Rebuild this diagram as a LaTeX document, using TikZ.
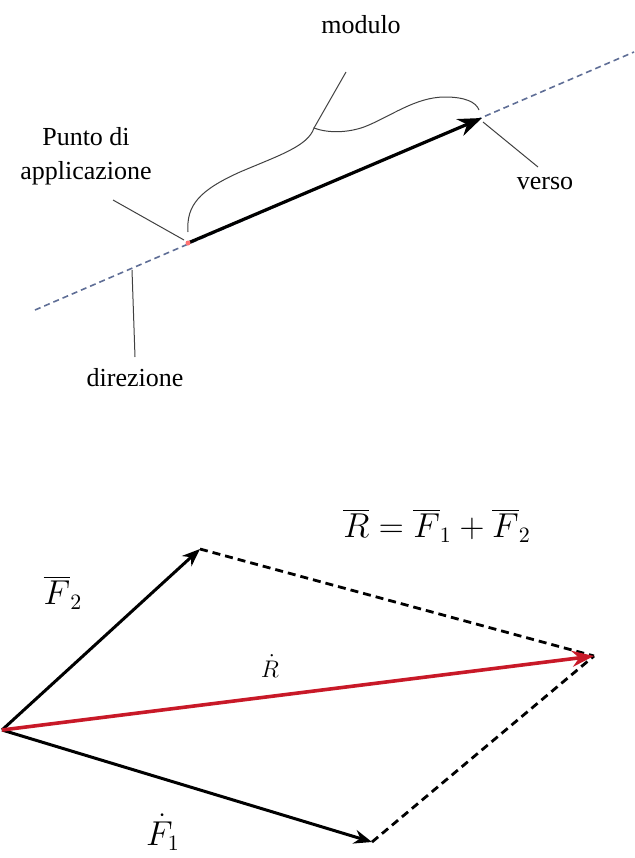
\documentclass[tikz,border=0pt]{standalone}
\usepackage{fontspec}
\setmainfont{Liberation Serif}
\usetikzlibrary{arrows.meta}
\definecolor{dirblue}{RGB}{95,110,150}
\definecolor{resred}{RGB}{200,25,40}
\tikzset{
  lbltext/.style={font=\fontsize{13}{15}\selectfont, inner sep=0pt, align=center},
  symtext/.style={font=\fontsize{16}{18}\selectfont, inner sep=0pt, anchor=base},
  leader/.style={line width=0.5pt, black!75},
  dirline/.style={dirblue, line width=0.8pt, dash pattern=on 3pt off 2pt},
  mainvec/.style={-{Stealth[length=12pt,width=9pt]}, line width=1.6pt},
  forcevec/.style={-{Stealth[length=9pt,width=7pt]}, line width=1.5pt},
  compline/.style={line width=1.4pt, dash pattern=on 4pt off 2.5pt},
}
\begin{document}
\begin{tikzpicture}[x=0.5pt,y=-0.5pt]
\useasboundingbox (0,0) rectangle (634,858);

% the vector and its four parts
\coordinate (dl) at (35,310);
\coordinate (dr) at (634,52);
\coordinate (O) at (188,243);
\coordinate (T) at (482,118);
\draw[dirline] (dl) -- (dr);
\draw[mainvec] (O) -- (T);
\fill[red!55] (O) circle (2.5);

\node[lbltext] (modulo) at (361,25) {modulo};
\node[lbltext] (punto) at (86,156) {Punto di\\[2pt]applicazione};
\node[lbltext] (verso) at (545,183) {verso};
\node[lbltext] (direz) at (135,378) {direzione};

\coordinate (cusp) at (314,128);
\coordinate (modl) at (346,72);
\coordinate (br1) at (188,232);
\coordinate (br2) at (479,110);
\draw[leader] (modl) -- (cusp);
\draw[leader] (br1) .. controls (186,205) and (200,190) .. (240,172)
  .. controls (280,155) and (308,146) .. (cusp)
  .. controls (330,134) and (350,132) .. (364,127)
  .. controls (390,117) and (415,97) .. (445,97)
  .. controls (465,97) and (476,102) .. (br2);

\coordinate (pl) at (113,200);
\coordinate (pr) at (184,240);
\draw[leader] (pl) -- (pr);
\coordinate (vl) at (483,122);
\coordinate (vr) at (538,167);
\draw[leader] (vl) -- (vr);
\coordinate (dt) at (132,270);
\coordinate (db) at (135,357);
\draw[leader] (dt) -- (db);

% parallelogram rule
\coordinate (P) at (2,730);
\coordinate (F2) at (200,549);
\coordinate (F1) at (372,842);
\coordinate (R) at (594,656);
\draw[compline] (F2) -- (R);
\draw[compline] (F1) -- (R);
\draw[forcevec] (P) -- (F2);
\draw[forcevec] (P) -- (F1);
\draw[forcevec, resred, line width=1.8pt, -{Stealth[length=11pt,width=8pt]}] (P) -- (R);

\node[symtext] (sum) at (437,537) {$\overline{R}=\overline{F}_1+\overline{F}_2$};
\node[symtext] (lF2) at (63,604) {$\overline{F}_2$};
\node[symtext, font=\fontsize{12}{14}\selectfont] (lR) at (270,677) {$\dot{R}$};
\node[symtext] (lF1) at (163,845) {$\dot{F}_1$};
\end{tikzpicture}
\end{document}
